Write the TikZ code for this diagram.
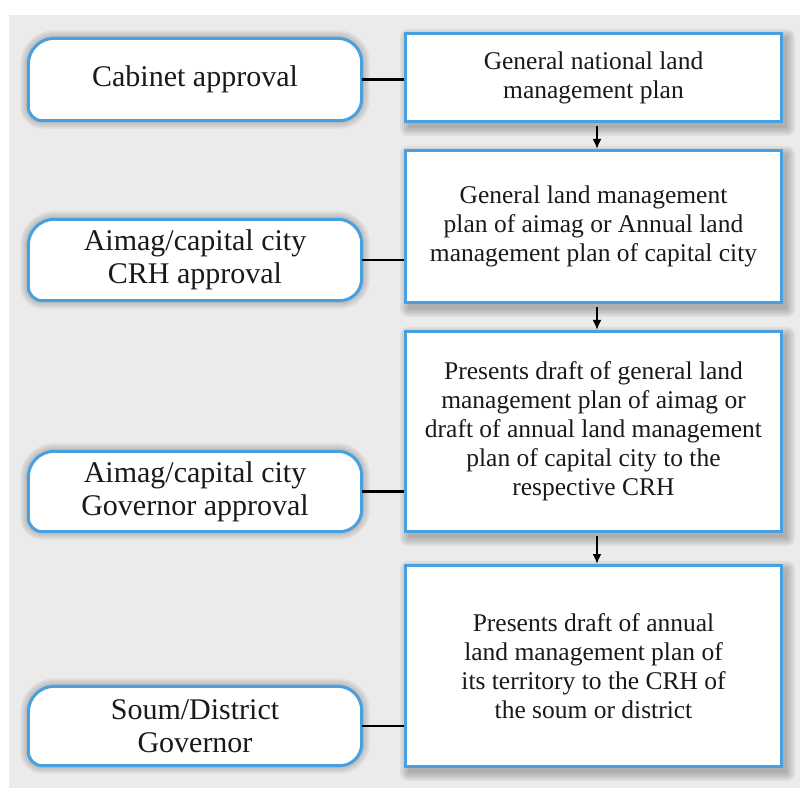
\documentclass[tikz,border=0pt]{standalone}
\usepackage{fontspec}
\setmainfont{Liberation Serif}
\usetikzlibrary{arrows.meta,calc}
\pgfdeclarelayer{bg}
\pgfsetlayers{bg,main}
\definecolor{bord}{RGB}{72,160,222}
\definecolor{pagegray}{RGB}{235,235,235}
\definecolor{ink}{RGB}{25,25,25}
% rounded left shape, expanded outward by #2 pt
\newcommand\lpathk[2]{([xshift=26pt,yshift=#2pt]#1.north west) -- ([xshift=-24pt,yshift=#2pt]#1.north east)
    arc[start angle=90,end angle=0,radius={24+#2}] -- ([xshift=#2pt,yshift=22pt]#1.south east)
    arc[start angle=0,end angle=-90,radius={22+#2}] -- ([xshift=14pt,yshift=-#2pt]#1.south west)
    arc[start angle=-90,end angle=-180,radius={14+#2}] -- ([xshift=-#2pt,yshift=-26pt]#1.north west)
    arc[start angle=180,end angle=90,radius={26+#2}] -- cycle}
\newcommand\lshape[1]{%
  \begin{scope}[shift={(4,-5)}]
  \foreach \k in {0,2,4,6,8}{\fill[shadowfill] \lpathk{#1}{\k};}
  \end{scope}
  \draw[lborder] \lpathk{#1}{0};}
\newcommand\rshadow[1]{%
  \foreach \k in {0,2,4,6,8}{\fill[shadowfill,rounded corners=\k] ([shift={(4-\k,-5+\k)}]#1.north west) rectangle ([shift={(4+\k,-5-\k)}]#1.south east);}}
\tikzset{
  shadowfill/.style={fill=black,fill opacity=.055},
  lborder/.style={draw=bord,line width=3pt,fill=white},
  lbox/.style={text=ink,font=\fontsize{30pt}{33pt}\selectfont,align=center,minimum width=333pt,inner sep=0pt},
  rbox/.style={draw=bord,line width=3pt,fill=white,text=ink,minimum width=376pt,inner sep=0pt,align=center,font=\fontsize{25.5pt}{29pt}\selectfont},
  conn/.style={draw=black,line width=2.8pt},
  arr/.style={draw=black,line width=2.2pt,-{Latex[length=10pt,width=9pt]},shorten <=3pt}
}
\begin{document}
\begin{tikzpicture}[x=1pt,y=1pt]
\useasboundingbox (0,0) rectangle (800,788);
\begin{pgfonlayer}{bg}
\fill[pagegray] (9,0) rectangle (800,773);
\end{pgfonlayer}
% right boxes
\node[rbox,minimum height=88pt] (r1) at (593.5,710.5) {General national land\\management plan};
\node[rbox,minimum height=152pt] (r2) at (593.5,561.5) {General land management\\plan of aimag or Annual land\\management plan of capital city};
\node[rbox,minimum height=200pt] (r3) at (593.5,356.5) {Presents draft of general land\\management plan of aimag or\\draft of annual land management\\plan of capital city to the\\respective CRH};
\node[rbox,minimum height=201pt] (r4) at (593.5,122) {Presents draft of annual\\land management plan of\\its territory to the CRH of\\the soum or district};
% left boxes
\node[lbox,minimum height=82pt] (l1) at (195,708.5) {Cabinet approval};
\node[lbox,minimum height=81pt] (l2) at (195,528) {Aimag/capital city\\CRH approval};
\node[lbox,minimum height=80pt] (l3) at (195,296.5) {Aimag/capital city\\Governor approval};
\node[lbox,minimum height=79pt] (l4) at (195,62) {Soum/District\\Governor};
\begin{pgfonlayer}{bg}
\rshadow{r1}\rshadow{r2}\rshadow{r3}\rshadow{r4}
\lshape{l1}\lshape{l2}\lshape{l3}\lshape{l4}
\end{pgfonlayer}
% connectors
\draw[conn] (l1.east) -- (l1.east -| r1.west);
\draw[conn] (l2.east) -- (l2.east -| r2.west);
\draw[conn] (l3.east) -- (l3.east -| r3.west);
\draw[conn] (l4.east) -- (l4.east -| r4.west);
% arrows
\draw[arr] ([xshift=3.5pt]r1.south) -- ([xshift=3.5pt]r2.north);
\draw[arr] ([xshift=3.5pt]r2.south) -- ([xshift=3.5pt]r3.north);
\draw[arr] ([xshift=3.5pt]r3.south) -- ([xshift=3.5pt]r4.north);
\end{tikzpicture}
\end{document}
